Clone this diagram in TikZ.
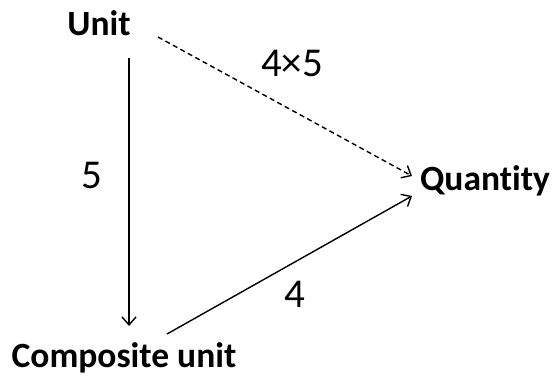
\documentclass[tikz,border=0pt]{standalone}
\usepackage{fontspec}
\setmainfont[Ligatures={NoCommon}]{Carlito}
\usetikzlibrary{arrows.meta}
\begin{document}
\begin{tikzpicture}[x=1pt,y=1pt,
  lbl/.style={font=\fontsize{35.5}{38}\selectfont\bfseries, inner sep=0pt, anchor=base},
  num/.style={font=\fontsize{41}{44}\selectfont, inner sep=0pt, anchor=base},
  conn/.style={line width=1.4pt, -{Straight Barb[length=8pt,width=14pt,line width=1.4pt]}}]
\useasboundingbox (0,0) rectangle (553,375);
\node[lbl] (unit) at (99,375-36) {Unit};
\node[lbl] (qty) at (485,375-190) {Quantity};
\node[lbl] (comp) at (124,375-367) {Composite unit};
\coordinate (a1) at (129,375-58);
\coordinate (a2) at (129,375-326);
\coordinate (b1) at (158,375-37);
\coordinate (b2) at (412,375-176);
\coordinate (c1) at (167,375-334);
\coordinate (c2) at (412,375-196);
\draw[conn] (a1) -- (a2);
\draw[conn, dash pattern=on 5pt off 3.5pt] (b1) -- (b2);
\draw[conn] (c1) -- (c2);
\node[num] (n5) at (92,375-189) {5};
\node[num] (n4) at (295,375-307) {4};
\node[num] (n45) at (292,375-77) {4×5};
\end{tikzpicture}
\end{document}
